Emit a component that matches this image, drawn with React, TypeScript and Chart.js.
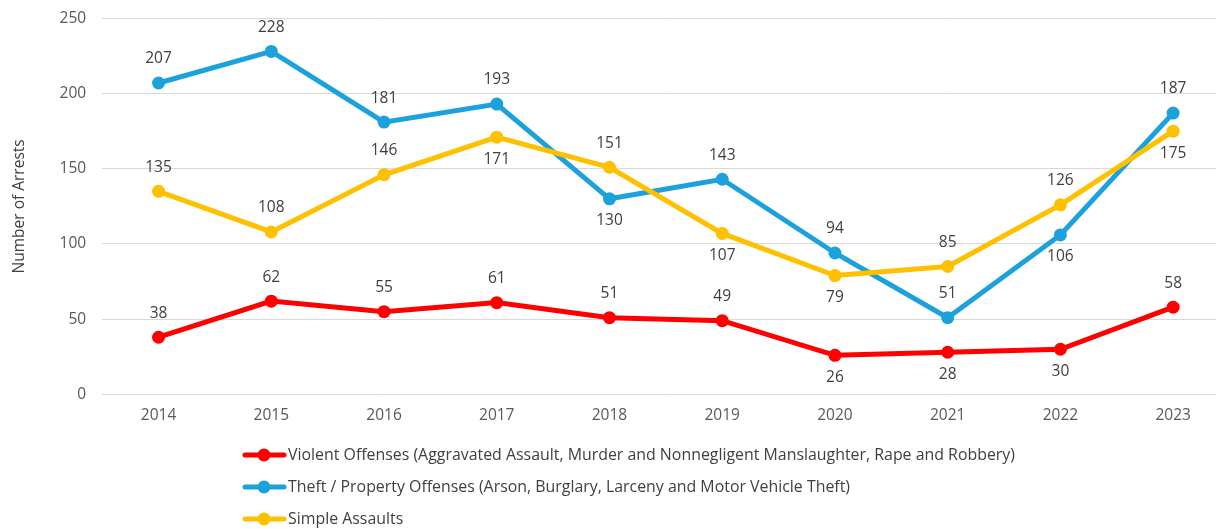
import React, { useEffect, useRef } from "react";
import { Chart, registerables } from "chart.js";

Chart.register(...registerables);

const years = ["2014", "2015", "2016", "2017", "2018", "2019", "2020", "2021", "2022", "2023"];
const violent = [38, 62, 55, 61, 51, 49, 26, 28, 30, 58];
const theft = [207, 228, 181, 193, 130, 143, 94, 51, 106, 187];
const simple = [135, 108, 146, 171, 151, 107, 79, 85, 126, 175];
const violentLabelPos = ["a", "a", "a", "a", "a", "a", "b", "b", "b", "a"];
const theftLabelPos = ["a", "a", "a", "a", "b", "a", "a", "a", "b", "a"];
const simpleLabelPos = ["a", "a", "a", "b", "a", "b", "b", "a", "a", "b"];
const seriesNames = [
  "Violent Offenses (Aggravated Assault, Murder and Nonnegligent Manslaughter, Rape and Robbery)",
  "Theft / Property Offenses (Arson, Burglary, Larceny and Motor Vehicle Theft)",
  "Simple Assaults",
];
const yTicks = [0, 50, 100, 150, 200, 250];

const FONT = "'Open Sans', sans-serif";
const SIZE = 15.5;
const SHIFT = 7;
const RED = "#FF0000";
const BLUE = "#1BA1DB";
const YELLOW = "#FFC000";

const labelPlugin = {
  id: "pointLabels",
  afterDatasetsDraw(chart: any) {
    const ctx = chart.ctx;
    ctx.save();
    ctx.font = `${SIZE}px ${FONT}`;
    ctx.fillStyle = "#404040";
    ctx.textAlign = "center";
    ctx.textBaseline = "middle";
    chart.data.datasets.forEach((ds: any, i: number) => {
      const meta = chart.getDatasetMeta(i);
      meta.data.forEach((pt: any, j: number) => {
        const pos = ds.labelPos[j];
        const dy = pos === "a" ? -24 : 22;
        ctx.fillText(String(ds.data[j]), pt.x, pt.y + dy);
      });
    });
    ctx.restore();
  },
};

const legendPlugin = {
  id: "customLegend",
  afterDraw(chart: any) {
    const ctx = chart.ctx;
    ctx.save();
    ctx.font = `15.9px ${FONT}`;
    ctx.textAlign = "left";
    ctx.textBaseline = "middle";
    const rows = [455, 487, 519];
    chart.data.datasets.forEach((ds: any, i: number) => {
      const y = rows[i] + SHIFT;
      ctx.strokeStyle = ds.borderColor;
      ctx.lineWidth = 5;
      ctx.lineCap = "round";
      ctx.beginPath();
      ctx.moveTo(245, y);
      ctx.lineTo(284, y);
      ctx.stroke();
      ctx.fillStyle = ds.borderColor;
      ctx.beginPath();
      ctx.arc(264, y, 6.5, 0, Math.PI * 2);
      ctx.fill();
      ctx.fillStyle = "#404040";
      ctx.fillText(ds.label, 288, y);
    });
    ctx.restore();
  },
};

export default function App() {
  const ref = useRef<HTMLCanvasElement | null>(null);
  useEffect(() => {
    if (!ref.current) return;
    const mk = (label: string, data: number[], color: string, pos: string[], order: number) => ({
      label,
      data,
      borderColor: color,
      backgroundColor: color,
      borderWidth: 5,
      pointRadius: 6.5,
      pointHoverRadius: 6.5,
      pointBorderWidth: 0,
      pointBackgroundColor: color,
      tension: 0,
      labelPos: pos,
      order,
    });
    const chart = new Chart(ref.current, {
      type: "line",
      data: {
        labels: years,
        datasets: [
          mk(seriesNames[0], violent, RED, violentLabelPos, 2),
          mk(seriesNames[1], theft, BLUE, theftLabelPos, 1),
          mk(seriesNames[2], simple, YELLOW, simpleLabelPos, 0),
        ] as any,
      },
      options: {
        animation: false,
        responsive: false,
        maintainAspectRatio: false,
        layout: { padding: { top: -4, bottom: 92, left: 10, right: 1 } },
        plugins: {
          legend: { display: false },
          tooltip: { enabled: false },
        },
        scales: {
          x: {
            offset: true,
            grid: { display: false, drawTicks: false },
            border: { display: false },
            ticks: { color: "#595959", font: { family: FONT, size: SIZE }, padding: 12 },
          },
          y: {
            min: 0,
            max: 250,
            afterBuildTicks: (axis: any) => {
              axis.ticks = yTicks.map((v) => ({ value: v }));
            },
            grid: { color: "#D9D9D9", lineWidth: 1, drawTicks: false },
            border: { display: false },
            ticks: { color: "#595959", font: { family: FONT, size: SIZE }, padding: 16 },
            title: {
              display: true,
              text: "Number of Arrests",
              color: "#404040",
              font: { family: FONT, size: SIZE },
              padding: { top: 0, bottom: 15 },
            },
          },
        },
      },
      plugins: [labelPlugin, legendPlugin],
    });
    return () => chart.destroy();
  }, []);
  return (
    <div style={{ position: "absolute", left: 0, top: 0, width: 1216, height: 529, overflow: "hidden", background: "#fff" }}>
      <canvas ref={ref} width={1236} height={529 + SHIFT} style={{ display: "block", marginTop: -SHIFT }} />
    </div>
  );
}
